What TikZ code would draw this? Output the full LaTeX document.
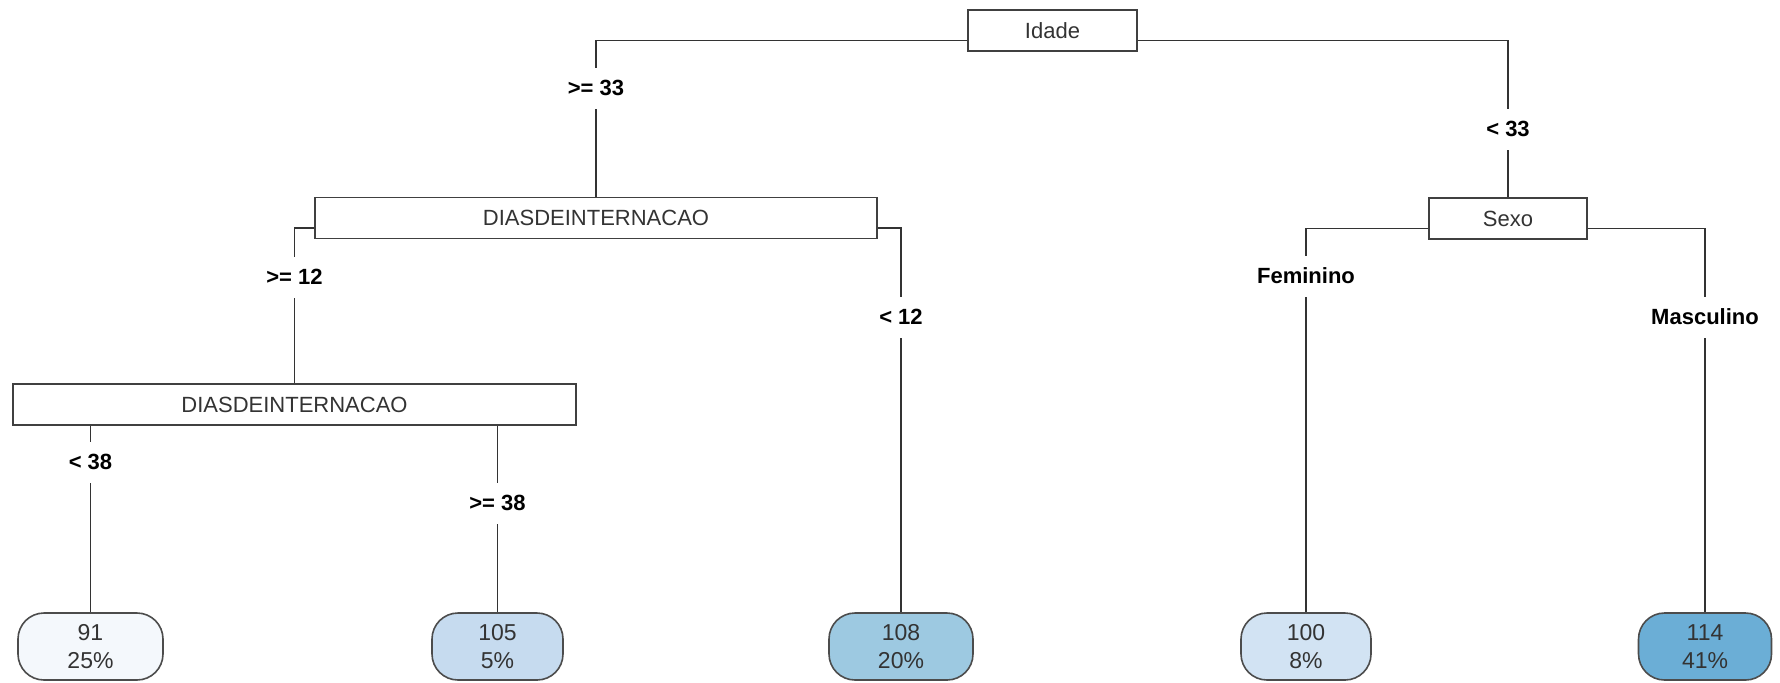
\documentclass[tikz,border=0pt]{standalone}
\usepackage{fontspec}
\setmainfont{Liberation Sans}
\usepackage{tikz}

\definecolor{leafa}{HTML}{F4F8FC}
\definecolor{leafb}{HTML}{C6DBEF}
\definecolor{leafc}{HTML}{9DC9E1}
\definecolor{leafd}{HTML}{D2E3F3}
\definecolor{leafe}{HTML}{6BAED6}

\begin{document}
\begin{tikzpicture}[x=0.5pt, y=-0.5pt,
    split/.style={draw=black!75, line width=0.8pt, fill=white, minimum height=20.5pt,
        inner sep=0pt, text=black!80, font=\fontsize{11}{13}\selectfont},
    leaf/.style={draw=black!70, line width=0.8pt, rounded corners=13pt, minimum height=33.5pt,
        inner sep=0pt, align=center, text=black!80, font=\fontsize{11.5}{14}\selectfont},
    cut/.style={fill=white, inner xsep=1pt, inner ysep=0pt, minimum height=20.5pt,
        font=\bfseries\fontsize{11}{13}\selectfont},
    branch/.style={draw=black!80, line width=0.75pt}]
    \useasboundingbox (0, 0) rectangle (1780, 682);

    \node[split, minimum width=84.5pt]  (idade) at (1052.5, 30.5) {Idade};
    \node[split, minimum width=281pt]   (dias1) at (596, 218) {DIASDEINTERNACAO};
    \node[split, minimum width=79pt]    (sexo)  at (1508, 218.5) {Sexo};
    \node[split, minimum width=281.5pt] (dias2) at (294.5, 404.5) {DIASDEINTERNACAO};

    \node[leaf, fill=leafa, minimum width=72.5pt] (n91)  at (90.5, 646.5) {91\\25\%};
    \node[leaf, fill=leafb, minimum width=65.5pt] (n105) at (497.5, 646.5) {105\\5\%};
    \node[leaf, fill=leafc, minimum width=72pt]   (n108) at (901, 646.5) {108\\20\%};
    \node[leaf, fill=leafd, minimum width=65pt]   (n100) at (1306, 646.5) {100\\8\%};
    \node[leaf, fill=leafe, minimum width=66.5pt] (n114) at (1705, 646.5) {114\\41\%};

    \draw[branch]
        ([yshift=-5pt]idade.west) -| (dias1.north)
        ([yshift=-5pt]idade.east) -| (sexo.north)
        ([yshift=-5pt]dias1.west) -| (dias2.north)
        ([yshift=-5pt]dias1.east) -| (n108.north)
        ([yshift=-5pt]sexo.west)  -| (n100.north)
        ([yshift=-5pt]sexo.east)  -| (n114.north)
        (dias2.south -| n91.north)  -- (n91.north)
        (dias2.south -| n105.north) -- (n105.north);

    \node[cut] (ge33) at (dias1.north |- 0,88)  {>= 33};
    \node[cut] (lt33) at (sexo.north |- 0,129)  {< 33};
    \node[cut] (ge12) at (dias2.north |- 0,277) {>= 12};
    \node[cut] (lt12) at (n108.north |- 0,317)  {< 12};
    \node[cut] (fem)  at (n100.north |- 0,276)  {Feminino};
    \node[cut] (masc) at (n114.north |- 0,317)  {Masculino};
    \node[cut] (lt38) at (n91.north |- 0,462)   {< 38};
    \node[cut] (ge38) at (n105.north |- 0,503)  {>= 38};
\end{tikzpicture}
\end{document}
